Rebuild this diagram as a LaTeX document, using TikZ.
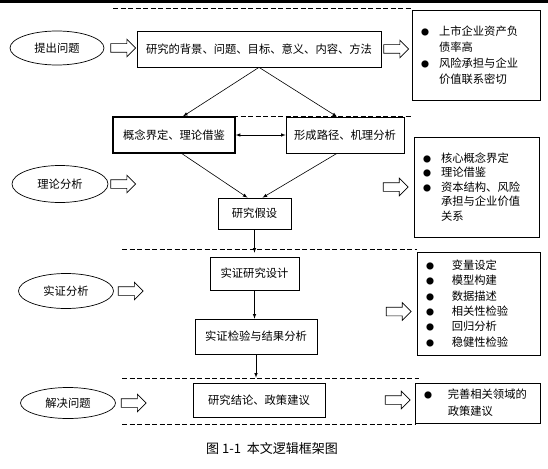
\documentclass[tikz,border=0pt]{standalone}
\usepackage{fontspec}
\newfontfamily\cjk{Noto Sans CJK SC}
\usetikzlibrary{positioning, shapes.geometric, shapes.arrows, arrows}

\newcommand{\bul}[1][18pt]{\makebox[#1][l]{\fontsize{8}{8}\selectfont ●}}
\newcommand{\nobul}[1][18pt]{\hspace*{#1}}

\begin{document}
\begin{tikzpicture}[x=1pt,y=1pt,>=latex,
	font=\cjk\fontsize{11.3}{14}\selectfont,
	box/.style={draw,rectangle,inner sep=0pt,line width=0.7pt},
	stage/.style={draw,ellipse,inner sep=0pt,line width=0.7pt},
	barrow/.style={draw,single arrow,minimum height=25pt,text height=4pt,text depth=4pt,
		single arrow head extend=4.5pt,inner sep=0pt,line width=0.7pt},
	note/.style={draw,rectangle,align=left,inner xsep=9pt,inner ysep=0pt,line width=0.7pt},
	sep/.style={dash pattern=on 5pt off 2.5pt,line width=0.9pt}]
	
	\useasboundingbox (0,0) rectangle (548,-468);
	\fill (0,0) rectangle (548,-3);
	
	% stages on the left
	\node[stage,minimum width=94pt,minimum height=34pt] (e1) at (57,-48) {提出问题};
	\node[stage,minimum width=96pt,minimum height=37pt] (e2) at (60,-184) {理论分析};
	\node[stage,minimum width=95pt,minimum height=35pt] (e3) at (66,-291) {实证分析};
	\node[stage,minimum width=95pt,minimum height=31pt] (e4) at (68,-403) {解决问题};
	
	% main chain
	\node[box,minimum width=244pt,minimum height=36pt] (bg) at (259,-49) {研究的背景、问题、目标、意义、内容、方法};
	\node[box,line width=1.4pt,minimum width=122pt,minimum height=36pt] (gn) at (174,-135) {概念界定、理论借鉴};
	\node[box,minimum width=118pt,minimum height=36pt] (xc) at (345,-135) {形成路径、机理分析};
	\node[box,minimum width=73pt,minimum height=31pt] (js) at (254.5,-213.5) {研究假设};
	\node[box,minimum width=89pt,minimum height=33pt] (sj) at (254.5,-273.5) {实证研究设计};
	\node[box,minimum width=122pt,minimum height=35pt] (jy) at (256,-336.5) {实证检验与结果分析};
	\node[box,minimum width=132pt,minimum height=34pt] (jl) at (259,-400) {研究结论、政策建议};
	
	% notes on the right
	\node[note,text width=110pt,minimum height=90pt,font=\cjk\fontsize{11.3}{16}\selectfont] (r1) at (476,-55)
		{\bul 上市企业资产负\\ \nobul 债率高\\ \bul 风险承担与企业\\ \nobul 价值联系密切};
	\node[note,text width=107pt,minimum height=100pt,font=\cjk\fontsize{11.3}{14.5}\selectfont] (r2) at (476.5,-187)
		{\bul 核心概念界定\\ \bul 理论借鉴\\ \bul 资本结构、风险\\ \nobul 承担与企业价值\\ \nobul 关系};
	\node[note,text width=105pt,minimum height=103pt,font=\cjk\fontsize{11.3}{15.4}\selectfont] (r3) at (478.5,-303.5)
		{\bul[22pt] 变量设定\\ \bul[22pt] 模型构建\\ \bul[22pt] 数据描述\\ \bul[22pt] 相关性检验\\ \bul[22pt] 回归分析\\ \bul[22pt] 稳健性检验};
	\node[note,text width=107pt,minimum height=40pt,font=\cjk\fontsize{11.3}{17}\selectfont] (r4) at (477.5,-403)
		{\bul[20pt] 完善相关领域的\\ \nobul[20pt] 政策建议};
	
	% hollow arrows
	\node[barrow] (a1) [right=6pt of e1] {};
	\node[barrow] (a2) [right=2pt of bg] {};
	\node[barrow] (a3) [right=2pt of e2] {};
	\node[barrow] (a4) [left=5pt of r2] {};
	\node[barrow] (a5) [right=4pt of e3] {};
	\node[barrow] (a6) [left=5pt of r3,yshift=-8pt] {};
	\node[barrow] (a7) [right=5pt of e4] {};
	\node[barrow] (a8) [left=4pt of r4,yshift=3pt] {};
	
	% dashed separators
	\draw[sep] (113,-8) -- (411,-8);
	\draw[sep] (113,-116) -- (411,-116);
	\draw[sep] (122,-249) -- (417,-249);
	\draw[sep] (122,-378) -- (419,-378);
	\draw[sep] (122,-424) -- (415,-424);
	
	\path[->,line width=0.6pt]
	(bg.south) edge ([xshift=9pt]gn.north)
	           edge ([xshift=-8pt]xc.north)
	(gn) edge [<->] (xc)
	([xshift=8pt]gn.south) edge ([xshift=-7pt]js.north)
	([xshift=-8pt]xc.south) edge ([xshift=8pt]js.north)
	(js) edge [shorten >=4pt] (sj)
	(sj.south) edge (sj.south |- jy.north)
	(jy.south) edge [shorten >=5pt] (jy.south |- jl.north);
	
	\node[font=\cjk\fontsize{13}{15}\selectfont] (cap) at (272,-449) {图 1-1\ \ 本文逻辑框架图};
\end{tikzpicture}
\end{document}
